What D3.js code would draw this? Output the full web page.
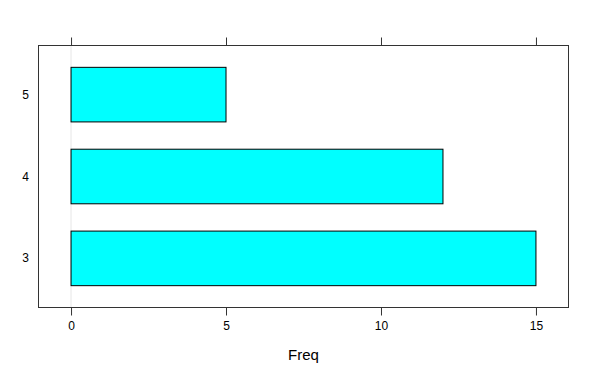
<!DOCTYPE html>
<html><head><meta charset="utf-8">
<script src="https://cdn.jsdelivr.net/npm/d3@7"></script>
<style>body{margin:0;background:#fff}svg{display:block}</style>
</head><body>
<script>
const categories = ["3", "4", "5"];
const freq = [15, 12, 5];
const xTicks = [0, 5, 10, 15];

(function () {
const W = 600, H = 375;
const L = 38.5, R = 568.5, T = 45.5, B = 307.5;
const svg = d3.select("body").append("svg").attr("width", W).attr("height", H)
  .style("font-family", "'Liberation Sans', Arial, sans-serif");

const x = d3.scaleLinear().domain([-1.05, 16.05]).range([L, R]);
const y = d3.scaleLinear().domain([0.4, 3.6]).range([B, T]);
const bandH = (y(0) - y(1)) * 2 / 3;

// reference line at 0
svg.append("line").attr("x1", x(0)).attr("x2", x(0)).attr("y1", T).attr("y2", B)
  .attr("stroke", "#e6e6e6").attr("stroke-width", 1);

// bars
svg.selectAll("rect.bar").data(categories).enter().append("rect")
  .attr("x", x(0))
  .attr("y", (d, i) => y(i + 1) - bandH / 2)
  .attr("width", (d, i) => x(freq[i]) - x(0))
  .attr("height", bandH)
  .attr("fill", "#00ffff").attr("stroke", "#000").attr("stroke-width", 1);

// frame
svg.append("rect").attr("x", L).attr("y", T).attr("width", R - L).attr("height", B - T)
  .attr("fill", "none").attr("stroke", "#333").attr("stroke-width", 1);

// bottom axis
const bottomAxis = d3.axisBottom(x).tickValues(xTicks).tickSize(8).tickPadding(6).tickFormat(d3.format("d"));
const gb = svg.append("g").attr("transform", `translate(0,${B})`).call(bottomAxis);
gb.select(".domain").remove();
gb.selectAll("line").attr("stroke", "#333");
gb.selectAll("text").attr("font-size", 12).attr("fill", "#000").style("font-family", "'Liberation Sans', Arial, sans-serif");

// top axis ticks only
const topAxis = d3.axisTop(x).tickValues(xTicks).tickSize(8).tickFormat("");
const gt = svg.append("g").attr("transform", `translate(0,${T})`).call(topAxis);
gt.select(".domain").remove();
gt.selectAll("line").attr("stroke", "#333");

// left labels
svg.selectAll("text.ylab").data(categories).enter().append("text")
  .attr("x", 29).attr("y", (d, i) => y(i + 1))
  .attr("text-anchor", "end").attr("dominant-baseline", "central")
  .attr("font-size", 12).attr("fill", "#000").text(d => d);

// x label
svg.append("text").attr("x", (L + R) / 2).attr("y", 360)
  .attr("text-anchor", "middle").attr("font-size", 15).attr("fill", "#000").text("Freq");
})();
</script>
</body></html>
